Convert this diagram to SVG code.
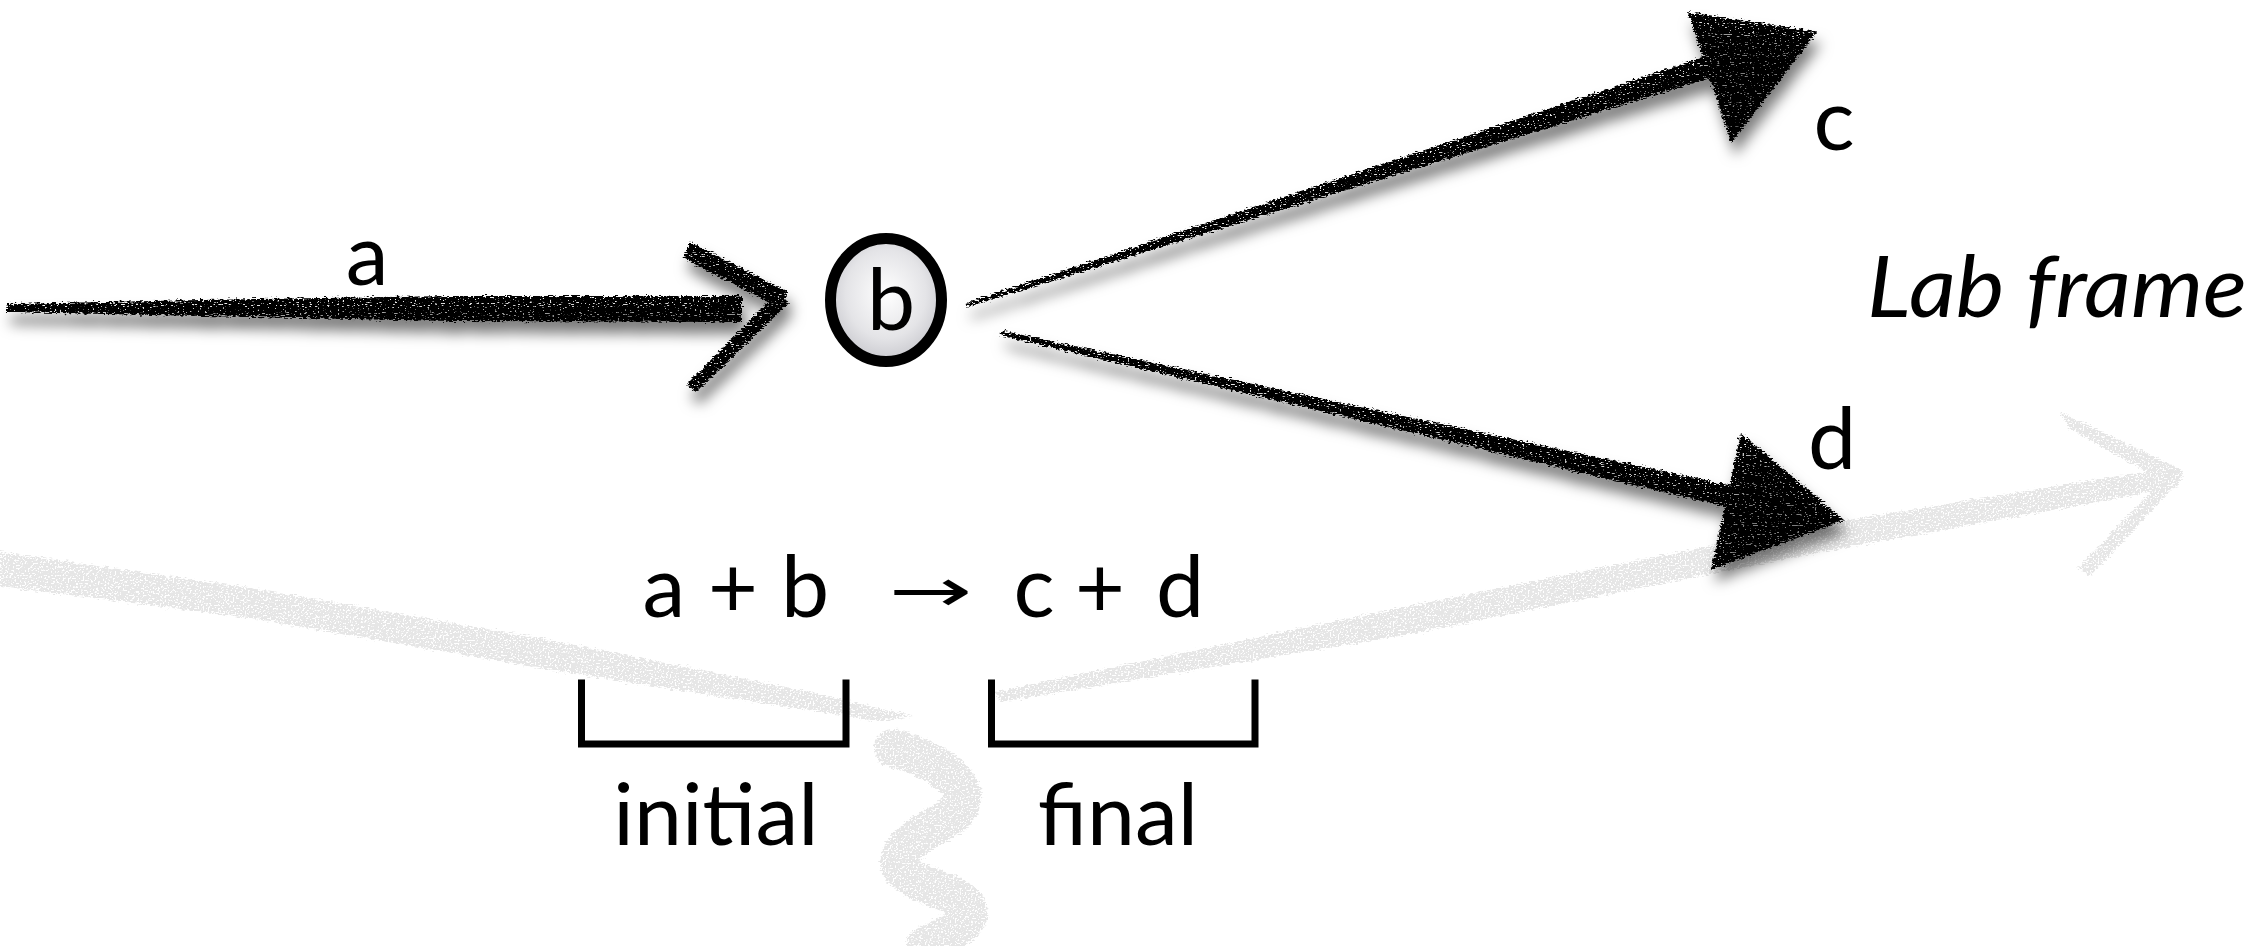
<svg xmlns="http://www.w3.org/2000/svg" width="2268" height="946" viewBox="0 0 2268 946">
  <defs>
    <style>
      .lbl { font-family: Lato, "Open Sans", "DejaVu Sans", sans-serif; font-size: 86px; fill: #000; }
      .ital { font-style: italic; }
      .ink { fill: #000; }
      .ghost { fill: #e6e6e6; }
      .ghost-line { fill: none; stroke: #e6e6e6; stroke-linecap: round; stroke-linejoin: round; }
      .bracket { fill: none; stroke: #000; stroke-width: 7; stroke-linecap: square; }
    </style>

    <!-- soft radial fill for the target particle -->
    <radialGradient id="ballFill" cx="50%" cy="45%" r="60%">
      <stop offset="0" stop-color="#ffffff"/>
      <stop offset="0.6" stop-color="#e4e4e7"/>
      <stop offset="1" stop-color="#c2c2c8"/>
    </radialGradient>

    <!-- dry-brush ink: ragged edges, sparse streaks and a soft cast shadow -->
    <filter id="brush" x="-5%" y="-40%" width="115%" height="200%" color-interpolation-filters="sRGB">
      <feTurbulence type="fractalNoise" baseFrequency="0.25 0.8" numOctaves="2" seed="4" result="n"/>
      <feDisplacementMap in="SourceGraphic" in2="n" scale="7" xChannelSelector="R" yChannelSelector="G" result="d"/>
      <feTurbulence type="fractalNoise" baseFrequency="0.4 0.9" numOctaves="1" seed="11" result="n2"/>
      <feColorMatrix in="n2" type="matrix" values="0 0 0 0 0  0 0 0 0 0  0 0 0 0 0  -14 0 0 0 9.8" result="holes"/>
      <feComposite in="d" in2="holes" operator="in" result="tex"/>
      <feGaussianBlur in="tex" stdDeviation="7" result="blur"/>
      <feOffset in="blur" dx="4" dy="12" result="off"/>
      <feColorMatrix in="off" type="matrix" values="0 0 0 0 0  0 0 0 0 0  0 0 0 0 0  0 0 0 0.55 0" result="shadow"/>
      <feMerge>
        <feMergeNode in="shadow"/>
        <feMergeNode in="tex"/>
      </feMerge>
    </filter>

    <!-- pale brush strokes in the background, no shadow -->
    <filter id="dry" x="-5%" y="-20%" width="110%" height="140%" color-interpolation-filters="sRGB">
      <feTurbulence type="fractalNoise" baseFrequency="0.2 0.7" numOctaves="2" seed="9" result="n"/>
      <feDisplacementMap in="SourceGraphic" in2="n" scale="8" xChannelSelector="R" yChannelSelector="G" result="d"/>
      <feTurbulence type="fractalNoise" baseFrequency="0.6" numOctaves="1" seed="2" result="n2"/>
      <feColorMatrix in="n2" type="matrix" values="0 0 0 0 0  0 0 0 0 0  0 0 0 0 0  -12 0 0 0 7.6" result="holes"/>
      <feComposite in="d" in2="holes" operator="in"/>
    </filter>
  </defs>

  <rect width="2268" height="946" fill="#ffffff"/>

  <!-- background: pale frame arrow and wavy divider -->
  <g id="backdrop" filter="url(#dry)">
    <polygon class="ghost" points="0,552 250,588 550,640 800,690 912,716 880,721 550,670 250,618 0,586"/>
    <path class="ghost-line" stroke-width="38" d="M893 748 C950 765 985 795 945 820 C890 850 880 870 940 890 C995 910 960 930 925 946"/>
    <polygon class="ghost" points="995,692 1400,608 1800,528 2168,468 2172,488 1800,556 1400,636 1000,702"/>
    <polygon class="ghost" points="2060,412 2182,470 2176,488 2068,428"/>
    <polygon class="ghost" points="2184,476 2090,576 2078,568 2168,474"/>
  </g>

  <!-- particle trajectories -->
  <g id="connectors" filter="url(#brush)">
    <g id="edge-a">
      <polygon class="ink" points="7,304 200,300 450,296 742,296 742,322 450,321 200,316 7,312"/>
      <polygon class="ink" points="690,242 788,292 780,308 683,258"/>
      <polygon class="ink" points="789,303 696,392 687,384 775,295"/>
    </g>
    <g id="edge-c">
      <polygon class="ink" points="966.4,303.1 1704.6,56.5 1711.4,77.5 967.6,306.9"/>
      <polygon class="ink" points="1688,12 1817,32 1731,143"/>
    </g>
    <g id="edge-d">
      <polygon class="ink" points="1001.5,330.6 1734.4,486.3 1729.6,507.7 1000.5,335.4"/>
      <polygon class="ink" points="1741,433 1844,520 1711,570"/>
    </g>
  </g>

  <g id="label-a">
    <text class="lbl" x="367" y="285" text-anchor="middle">a</text>
  </g>

  <g id="node-b">
    <ellipse cx="886" cy="300" rx="55.5" ry="61.5" fill="url(#ballFill)" stroke="#000" stroke-width="11"/>
    <text class="lbl" x="891" y="330" text-anchor="middle">b</text>
  </g>

  <g id="label-c">
    <text class="lbl" x="1834" y="150" text-anchor="middle">c</text>
  </g>

  <g id="label-d">
    <text class="lbl" x="1832" y="469" text-anchor="middle">d</text>
  </g>

  <g id="frame-label">
    <text class="lbl ital" x="1867" y="317" font-size="90" textLength="380" lengthAdjust="spacingAndGlyphs">Lab frame</text>
  </g>

  <!-- reaction equation with initial / final brackets -->
  <g id="reaction">
    <text class="lbl" y="617" text-anchor="middle">
      <tspan x="675">a</tspan>
      <tspan x="744">+</tspan>
      <tspan x="816">b</tspan>
      <tspan x="1045">c</tspan>
      <tspan x="1111">+</tspan>
      <tspan x="1180">d</tspan>
    </text>
    <text transform="translate(931 611) scale(1 0.6)" x="0" y="0" text-anchor="middle" font-family="'DejaVu Sans', sans-serif" font-size="100" fill="#000">→</text>
    <path class="bracket" d="M581.5 683 V744 H846 V683"/>
    <path class="bracket" d="M991.5 683 V744 H1255 V683"/>
    <text class="lbl" x="716" y="845" text-anchor="middle">initial</text>
    <text class="lbl" x="1118" y="845" text-anchor="middle">final</text>
  </g>
</svg>
